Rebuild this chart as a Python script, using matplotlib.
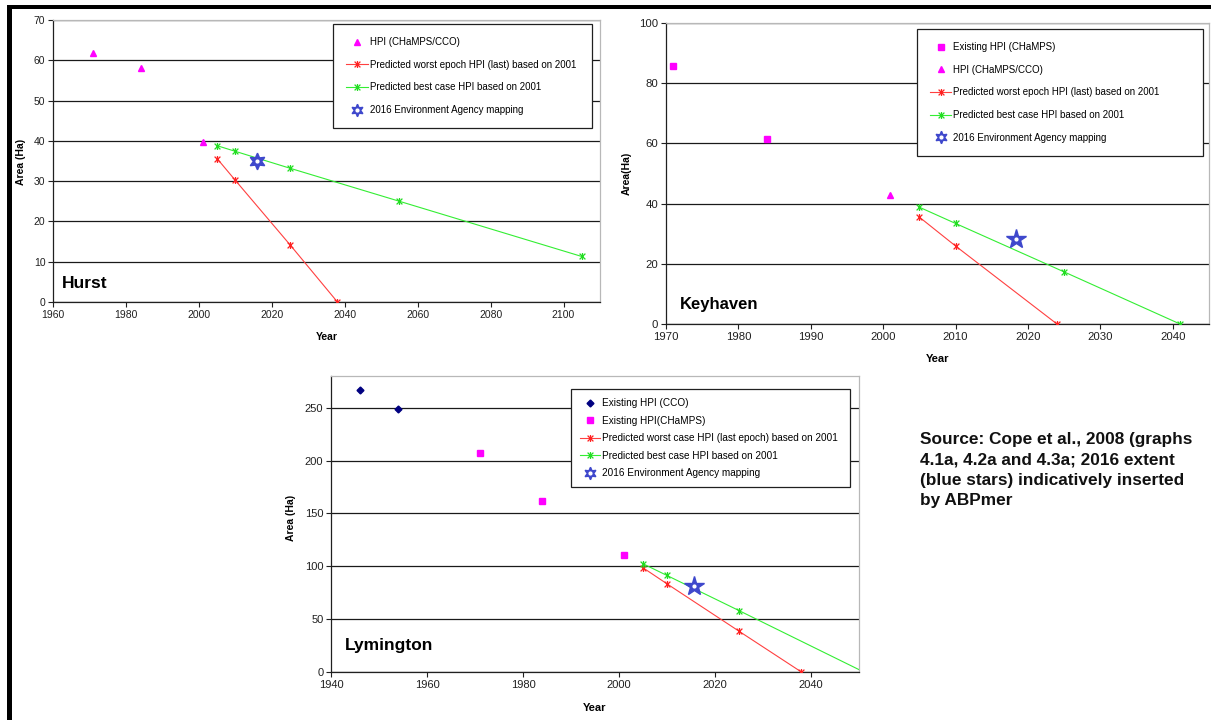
import matplotlib
matplotlib.use("Agg")
import matplotlib.pyplot as plt
from matplotlib.lines import Line2D
from matplotlib.patches import Rectangle
from matplotlib.path import Path

plt.rcParams["font.family"] = ["Liberation Sans", "DejaVu Sans"]

# ---------------- data ----------------
# Hurst
hurst_hpi_year = [1971, 1984, 2001]
hurst_hpi_area = [61.7, 58.0, 39.8]
hurst_worst_year = [2005, 2010, 2025, 2038]
hurst_worst_area = [35.6, 30.2, 14.2, 0.0]
hurst_best_year = [2005, 2010, 2025, 2055, 2105]
hurst_best_area = [38.8, 37.4, 33.2, 25.0, 11.3]
hurst_ea_year = [2016]
hurst_ea_area = [35.0]

# Keyhaven
key_exist_year = [1971, 1984]
key_exist_area = [85.8, 61.3]
key_hpi_year = [2001]
key_hpi_area = [42.9]
key_worst_year = [2005, 2010, 2024]
key_worst_area = [35.5, 25.9, 0.0]
key_best_year = [2005, 2010, 2025, 2041]
key_best_area = [38.8, 33.4, 17.3, 0.0]
key_ea_year = [2018.4]
key_ea_area = [28.4]

# Lymington
lym_cco_year = [1946, 1954]
lym_cco_area = [266.4, 249.0]
lym_champs_year = [1971, 1984, 2001]
lym_champs_area = [207.6, 162.0, 110.6]
lym_worst_year = [2005, 2010, 2025, 2038]
lym_worst_area = [98.6, 83.4, 38.6, 0.0]
lym_best_year = [2005, 2010, 2025, 2051]
lym_best_area = [102.4, 91.3, 58.1, 0.0]
lym_ea_year = [2015.7]
lym_ea_area = [81.5]

source_lines = [
    "Source: Cope et al., 2008 (graphs",
    "4.1a, 4.2a and 4.3a; 2016 extent",
    "(blue stars) indicatively inserted",
    "by ABPmer",
]

# ---------------- styles ----------------
W, H = 1211, 720
MAGENTA = "#ff00ff"
NAVY = "#000080"
RED = "#ff4040"
GREEN = "#33ee33"
BLUE = "#3f48cc"
GRID = "#1a1a1a"
# Excel style star: an x with a vertical bar through it
ASTER = Path([(-1, -1), (1, 1), (-1, 1), (1, -1), (0, -1.2), (0, 1.2)],
             [Path.MOVETO, Path.LINETO] * 3)


def box(x0, y0, x1, y1):
    # pixel box (top-left origin) -> figure fraction rect
    return [x0 / W, 1 - y1 / H, (x1 - x0) / W, (y1 - y0) / H]


def ftext(x, y, s, **kw):
    fig.text(x / W, 1 - y / H, s, **kw)


def style_axes(ax, tick_size):
    for side in ["top", "right"]:
        ax.spines[side].set_color("#b8b8b8")
    for side in ["left", "bottom"]:
        ax.spines[side].set_color("#202020")
    for s in ax.spines.values():
        s.set_linewidth(0.9)
    ax.tick_params(direction="out", length=3.5, width=0.8, labelsize=tick_size,
                   colors="#202020", pad=2)
    ax.yaxis.grid(True, color=GRID, linewidth=0.9)
    ax.set_axisbelow(True)


def worst_line(ax, x, y):
    return ax.plot(x, y, color=RED, lw=0.8, marker=ASTER, ms=5, mew=0.9,
                   mec="#ff2020", zorder=3)[0]


def best_line(ax, x, y):
    return ax.plot(x, y, color=GREEN, lw=0.8, marker=ASTER, ms=5, mew=0.9,
                   mec="#22dd22", zorder=3)[0]


def ea_point(ax, x, y, marker, ms):
    star = ax.plot(x, y, ls="none", marker=marker, ms=ms, color=BLUE, zorder=4)[0]
    ax.plot(x, y, ls="none", marker="o", ms=2, color="white", zorder=5)
    return star


def ea_handle():
    return (Line2D([], [], ls="none", marker=(6, 1, 0), ms=9, color=BLUE),
            Line2D([], [], ls="none", marker="o", ms=2, color="white"))


def make_legend(ax, handles, labels, anchor, spacing, size, hlen=2.2, bpad=1.0):
    leg = ax.legend(handles, labels, loc="upper left", bbox_to_anchor=anchor,
                    mode="expand", fancybox=False, framealpha=1,
                    edgecolor="#202020", fontsize=size, labelspacing=spacing,
                    handlelength=hlen, handletextpad=0.2, borderpad=bpad,
                    borderaxespad=0)
    leg.get_frame().set_linewidth(0.9)
    leg.set_zorder(10)
    return leg


fig = plt.figure(figsize=(W / 100, H / 100), dpi=100)

# ---------------- Hurst ----------------
ax1 = fig.add_axes(box(53, 20, 600, 302))
style_axes(ax1, 7.5)
h1 = ax1.plot(hurst_hpi_year, hurst_hpi_area, ls="none", marker="^", ms=5,
              color=MAGENTA, zorder=3)[0]
h2 = worst_line(ax1, hurst_worst_year, hurst_worst_area)
h3 = best_line(ax1, hurst_best_year, hurst_best_area)
ea_point(ax1, hurst_ea_year, hurst_ea_area, (6, 1, 0), 12)
ax1.set_xlim(1960, 2110)
ax1.set_ylim(0, 70)
ax1.set_xticks(range(1960, 2101, 20))
ax1.set_yticks(range(0, 71, 10))
make_legend(ax1, [h1, h2, h3, ea_handle()],
            ["HPI (CHaMPS/CCO)", "Predicted worst epoch HPI (last) based on 2001",
             "Predicted best case HPI based on 2001", "2016 Environment Agency mapping"],
            (0.512, 0.986, 0.4735, 0), 1.3, 7.0, bpad=1.35)
ax1.text(0.017, 0.067, "Hurst", transform=ax1.transAxes, fontsize=12.5,
         fontweight="bold", va="center", ha="left")
ftext(20.5, 162, "Area (Ha)", rotation=90, ha="center", va="center",
      fontsize=7.5, fontweight="bold")
ftext(327, 337, "Year", ha="center", va="center", fontsize=7.5, fontweight="bold")

# ---------------- Keyhaven ----------------
ax2 = fig.add_axes(box(666, 23, 1209, 324))
style_axes(ax2, 8.2)
k1 = ax2.plot(key_exist_year, key_exist_area, ls="none", marker="s", ms=5,
              color=MAGENTA, zorder=3)[0]
k2 = ax2.plot(key_hpi_year, key_hpi_area, ls="none", marker="^", ms=5,
              color=MAGENTA, zorder=3)[0]
k3 = worst_line(ax2, key_worst_year, key_worst_area)
k4 = best_line(ax2, key_best_year, key_best_area)
ea_point(ax2, key_ea_year, key_ea_area, "*", 15)
ax2.set_xlim(1970, 2045)
ax2.set_ylim(0, 100)
ax2.set_xticks(range(1970, 2041, 10))
ax2.set_yticks(range(0, 101, 20))
make_legend(ax2, [k1, k2, k3, k4, ea_handle()],
            ["Existing HPI (CHaMPS)", "HPI (CHaMPS/CCO)",
             "Predicted worst epoch HPI (last) based on 2001",
             "Predicted best case HPI based on 2001", "2016 Environment Agency mapping"],
            (0.462, 0.980, 0.527, 0), 1.3, 7.0, bpad=1.35)
ax2.text(0.026, 0.066, "Keyhaven", transform=ax2.transAxes, fontsize=12,
         fontweight="bold", va="center", ha="left")
ftext(627, 173, "Area(Ha)", rotation=90, ha="center", va="center",
      fontsize=7.5, fontweight="bold")
ftext(938, 359, "Year", ha="center", va="center", fontsize=8, fontweight="bold")

# ---------------- Lymington ----------------
ax3 = fig.add_axes(box(331, 376, 859, 672))
style_axes(ax3, 8)
l1 = ax3.plot(lym_cco_year, lym_cco_area, ls="none", marker="D", ms=3.5,
              color=NAVY, zorder=3)[0]
l2 = ax3.plot(lym_champs_year, lym_champs_area, ls="none", marker="s", ms=5,
              color=MAGENTA, zorder=3)[0]
l3 = worst_line(ax3, lym_worst_year, lym_worst_area)
l4 = best_line(ax3, lym_best_year, lym_best_area)
ea_point(ax3, lym_ea_year, lym_ea_area, "*", 15)
ax3.set_xlim(1940, 2050)
ax3.set_ylim(0, 280)
ax3.set_xticks(range(1940, 2041, 20))
ax3.set_yticks(range(0, 251, 50))
make_legend(ax3, [l1, l2, l3, l4, ea_handle()],
            ["Existing HPI (CCO)", "Existing HPI(CHaMPS)",
             "Predicted worst case HPI (last epoch) based on 2001",
             "Predicted best case HPI based on 2001", "2016 Environment Agency mapping"],
            (0.4545, 0.956, 0.528, 0), 0.75, 7.2, hlen=2.0, bpad=0.9)
ax3.text(0.027, 0.088, "Lymington", transform=ax3.transAxes, fontsize=12.5,
         fontweight="bold", va="center", ha="left")
ftext(291.5, 518, "Area (Ha)", rotation=90, ha="center", va="center",
      fontsize=7.5, fontweight="bold")
ftext(595, 708, "Year", ha="center", va="center", fontsize=8, fontweight="bold")

# ---------------- source note ----------------
for i, line in enumerate(source_lines):
    ftext(920, 439 + i * 20.6, line, ha="left", va="center", fontsize=12.4,
          fontweight="bold", color="#111111")

# black page frame (top and left edges)
fig.add_artist(Rectangle((7 / W, 1 - 9 / H), 1 - 7 / W, 4 / H,
                         transform=fig.transFigure, color="black", lw=0))
fig.add_artist(Rectangle((7 / W, 0), 4.5 / W, 1 - 5 / H,
                         transform=fig.transFigure, color="black", lw=0))

fig.savefig("out.png", dpi=100)
